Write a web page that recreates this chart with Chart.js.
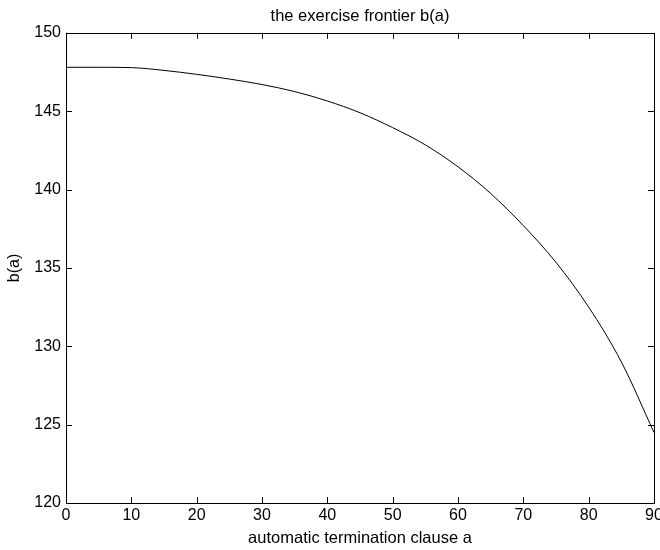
<!DOCTYPE html>
<html>
<head>
<meta charset="utf-8">
<script src="https://cdn.jsdelivr.net/npm/chart.js@4"></script>
<style>
  html, body { margin: 0; padding: 0; background: #fff; }
  #wrap { width: 660px; height: 550px; }
</style>
</head>
<body>
<div id="wrap"><canvas id="graph"></canvas></div>
<script>
// values
const clauseA = [0, 5, 10, 15, 20, 25, 30, 35, 40, 45, 50, 55, 60, 65, 70, 75, 80, 85, 90];
const frontierB = [147.80, 147.80, 147.78, 147.60, 147.35, 147.05, 146.70, 146.25, 145.65, 144.90,
                   143.95, 142.85, 141.45, 139.75, 137.70, 135.35, 132.50, 129.00, 124.50];
const xTicks = [0, 10, 20, 30, 40, 50, 60, 70, 80, 90];
const yTicks = [120, 125, 130, 135, 140, 145, 150];

const FONT = "'Liberation Sans', Arial, sans-serif";

// matlab style box with inward ticks
const boxTicks = {
    id: 'boxTicks',
    afterDraw(chart) {
        const { ctx, chartArea: a, scales } = chart;
        ctx.save();
        ctx.strokeStyle = '#000';
        ctx.lineWidth = 1;
        ctx.strokeRect(Math.round(a.left) + 0.5, Math.round(a.top) + 0.5,
                       Math.round(a.right - a.left), Math.round(a.bottom - a.top));
        ctx.beginPath();
        scales.x.ticks.forEach(t => {
            const px = Math.round(scales.x.getPixelForValue(t.value)) + 0.5;
            ctx.moveTo(px, a.bottom); ctx.lineTo(px, a.bottom - 6);
            ctx.moveTo(px, a.top); ctx.lineTo(px, a.top + 6);
        });
        scales.y.ticks.forEach(t => {
            const py = Math.round(scales.y.getPixelForValue(t.value)) + 0.5;
            ctx.moveTo(a.left, py); ctx.lineTo(a.left + 6, py);
            ctx.moveTo(a.right, py); ctx.lineTo(a.right - 6, py);
        });
        ctx.stroke();
        ctx.restore();
    }
};

const data = {
    datasets: [{
        label: 'b(a)',
        data: clauseA.map((a, i) => ({ x: a, y: frontierB[i] })),
        borderColor: '#000',
        borderWidth: 1,
        pointRadius: 0,
        cubicInterpolationMode: 'monotone',
        fill: false,
    }]
};

const config = {
    type: 'line',
    data: data,
    plugins: [boxTicks],
    options: {
        responsive: true,
        maintainAspectRatio: false,
        animation: false,
        layout: { padding: { left: 0, right: 6, top: 0, bottom: 0 } },
        plugins: {
            legend: { display: false },
            tooltip: { enabled: false },
            title: {
                display: true,
                fullSize: false,
                text: 'the exercise frontier b(a)',
                color: '#000',
                font: { family: FONT, size: 16.5, weight: 'normal' },
                padding: { top: 7, bottom: 6 },
            }
        },
        scales: {
            x: {
                type: 'linear',
                min: 0,
                max: 90,
                afterBuildTicks: s => { s.ticks = xTicks.map(v => ({ value: v })); },
                afterFit: s => { s.height = 47; s.paddingLeft = 0; s.paddingRight = 0; },
                grid: { display: false, drawTicks: false },
                border: { display: false },
                ticks: { color: '#000', font: { family: FONT, size: 16 }, padding: 3, maxRotation: 0, autoSkip: false },
                title: {
                    display: true,
                    text: 'automatic termination clause a',
                    color: '#000',
                    font: { family: FONT, size: 16.5 },
                    padding: { top: 0, bottom: 2 },
                }
            },
            y: {
                type: 'linear',
                min: 120,
                max: 150,
                afterBuildTicks: s => { s.ticks = yTicks.map(v => ({ value: v })); },
                afterFit: s => { s.width = 66; s.paddingTop = 0; s.paddingBottom = 0; },
                grid: { display: false, drawTicks: false },
                border: { display: false },
                ticks: { color: '#000', font: { family: FONT, size: 16 }, padding: 5, autoSkip: false },
                title: {
                    display: true,
                    text: 'b(a)',
                    color: '#000',
                    font: { family: FONT, size: 16 },
                    padding: { top: 5, bottom: 0 },
                }
            }
        }
    }
};

new Chart('graph', config);
</script>
</body>
</html>
